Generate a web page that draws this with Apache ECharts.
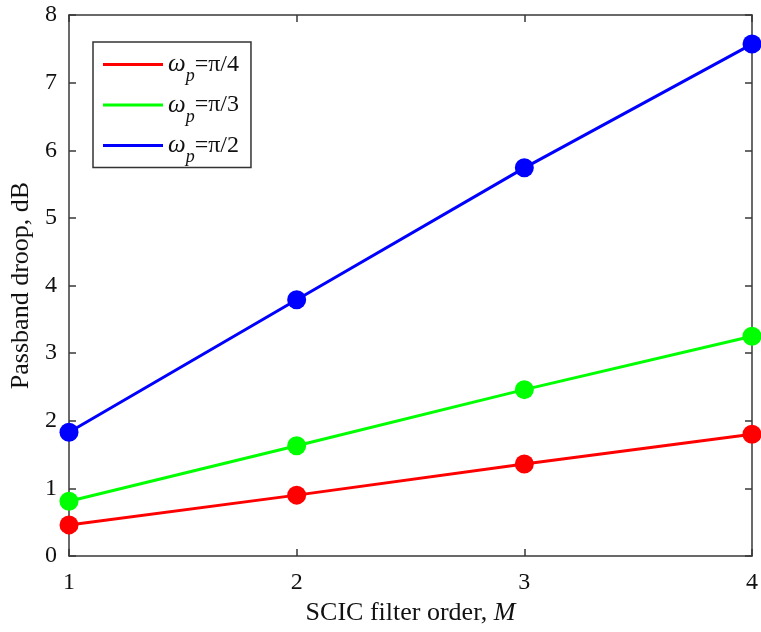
<!DOCTYPE html>
<html>
<head>
<meta charset="utf-8">
<script src="https://cdn.jsdelivr.net/npm/echarts@6/dist/echarts.min.js"></script>
<style>html,body{margin:0;padding:0;background:#fff;}#c{width:761px;height:632px;}</style>
</head>
<body>
<div id="c"></div>
<script>
const orders = [1, 2, 3, 4];
const seriesNames = ['π/4', 'π/3', 'π/2'];
const droopPi4 = [0.46, 0.90, 1.36, 1.80];
const droopPi3 = [0.81, 1.63, 2.46, 3.25];
const droopPi2 = [1.83, 3.79, 5.74, 7.57];
const yTicks = [0, 1, 2, 3, 4, 5, 6, 7, 8];
const colors = ['#ff0000', '#00ff00', '#0000ff'];

const FONT = '"Liberation Serif", "Times New Roman", serif';
const chart = echarts.init(document.getElementById('c'));
const allData = [droopPi4, droopPi3, droopPi2];

const axisLine = () => ({ show: true, onZero: false, lineStyle: { color: '#383838', width: 1.5 } });
const tick = () => ({ show: true, inside: true, length: 7, lineStyle: { color: '#383838', width: 1.5 } });

const option = {
  animation: false,
  backgroundColor: '#fff',
  grid: { left: 69, right: 6, top: 15, bottom: 76, containLabel: false },
  legend: {
    orient: 'vertical',
    left: 93, top: 42,
    width: 159,
    padding: [10, 12, 1, 10],
    itemGap: 7,
    itemWidth: 60, itemHeight: 3,
    borderColor: '#333', borderWidth: 1.5,
    backgroundColor: '#fff',
    data: seriesNames.map(n => ({ name: n, icon: 'rect' })),
    formatter: n => '{w|ω}{s|p}{t|=' + n + '}',
    textStyle: {
      fontFamily: FONT, color: '#111',
      rich: {
        w: { fontFamily: FONT, fontStyle: 'italic', fontSize: 25, color: '#111' },
        s: { fontFamily: FONT, fontStyle: 'italic', fontSize: 18, color: '#111', padding: [24, 0, 0, 0] },
        t: { fontFamily: FONT, fontSize: 24, color: '#111' }
      }
    }
  },
  xAxis: [{
    type: 'value', min: 1, max: 4, interval: 1,
    position: 'bottom',
    axisLine: axisLine(), axisTick: tick(),
    splitLine: { show: false },
    axisLabel: { margin: 15, fontFamily: FONT, fontSize: 24, color: '#111' },
    name: 'SCIC filter order, {i|M}',
    nameLocation: 'middle', nameGap: 44,
    nameTextStyle: {
      fontFamily: FONT, fontSize: 26, color: '#111',
      rich: { i: { fontFamily: FONT, fontSize: 26, fontStyle: 'italic', color: '#111' } }
    }
  }, {
    type: 'value', min: 1, max: 4, interval: 1,
    position: 'top',
    axisLine: axisLine(), axisTick: tick(),
    splitLine: { show: false },
    axisLabel: { show: false }
  }],
  yAxis: [{
    type: 'value', min: yTicks[0], max: yTicks[yTicks.length - 1], interval: 1,
    position: 'left',
    axisLine: axisLine(), axisTick: tick(),
    splitLine: { show: false },
    axisLabel: { margin: 12, fontFamily: FONT, fontSize: 24, color: '#111' },
    name: 'Passband droop, dB',
    nameLocation: 'middle', nameGap: 26,
    nameTextStyle: { fontFamily: FONT, fontSize: 26, color: '#111' }
  }, {
    type: 'value', min: yTicks[0], max: yTicks[yTicks.length - 1], interval: 1,
    position: 'right',
    axisLine: axisLine(), axisTick: tick(),
    splitLine: { show: false },
    axisLabel: { show: false }
  }],
  series: seriesNames.map((n, i) => ({
    name: n,
    type: 'line',
    xAxisIndex: 0, yAxisIndex: 0,
    data: orders.map((x, k) => [x, allData[i][k]]),
    color: colors[i],
    lineStyle: { width: 3, color: colors[i] },
    itemStyle: { color: colors[i] },
    symbol: 'circle', symbolSize: 19,
    showAllSymbol: true,
    clip: false,
    z: 3 + i
  }))
};
chart.setOption(option);
</script>
</body>
</html>
